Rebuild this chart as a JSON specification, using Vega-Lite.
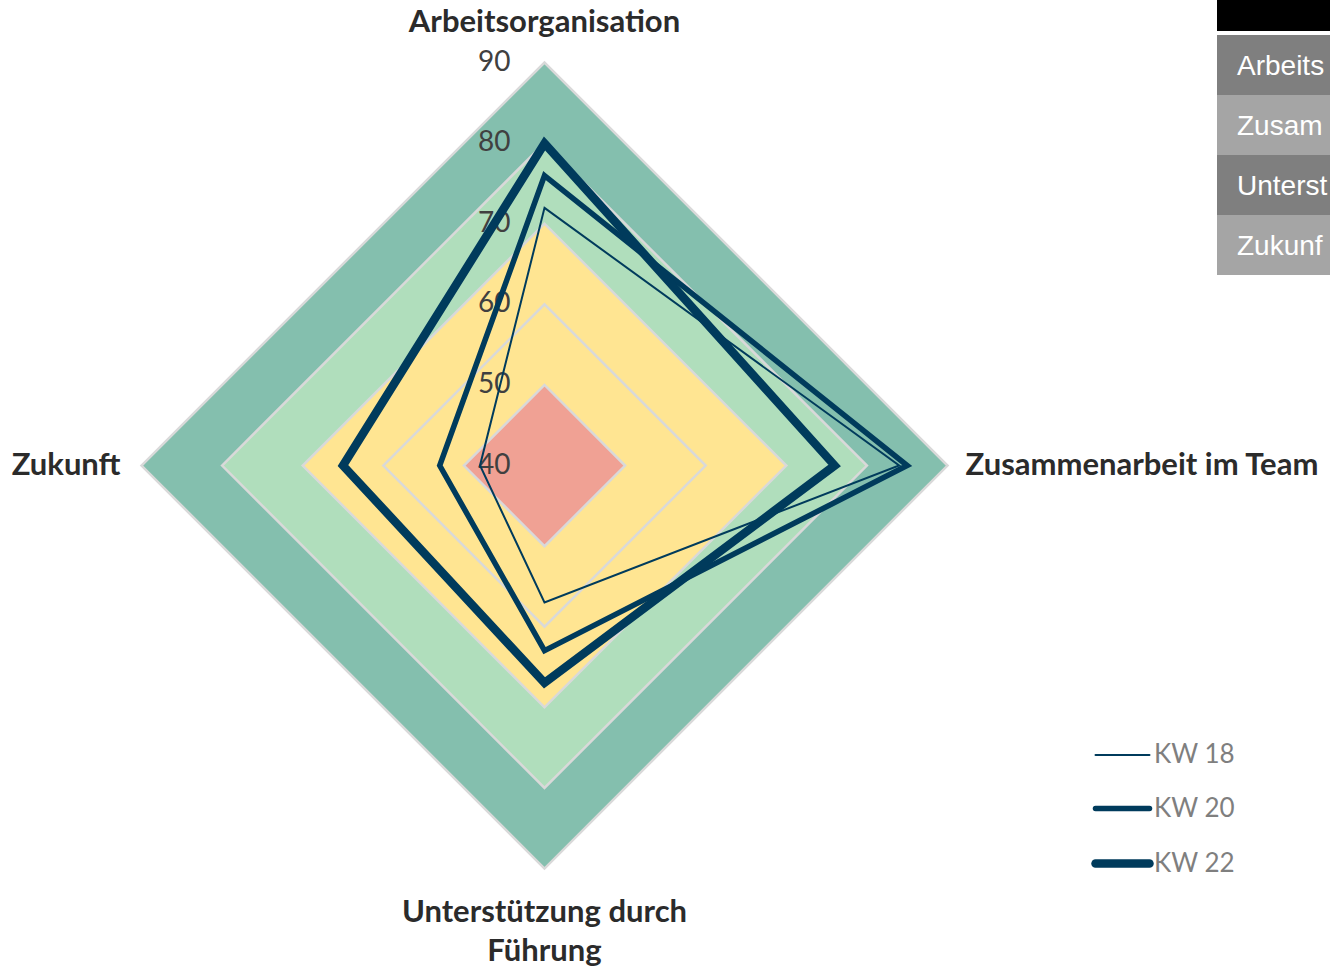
{
  "$schema": "https://vega.github.io/schema/vega-lite/v6.json",
  "width": 1330,
  "height": 967,
  "autosize": {"type": "fit", "contains": "padding"},
  "padding": 0,
  "background": "white",
  "config": {"view": {"stroke": null}, "axis": {"disable": true}},
  "datasets": {
    "radar": [
      {"series": "KW 18", "axis": "Arbeitsorganisation", "value": 72},
      {"series": "KW 18", "axis": "Zusammenarbeit im Team", "value": 84},
      {"series": "KW 18", "axis": "Unterstützung durch Führung", "value": 57},
      {"series": "KW 18", "axis": "Zukunft", "value": 48},
      {"series": "KW 20", "axis": "Arbeitsorganisation", "value": 76},
      {"series": "KW 20", "axis": "Zusammenarbeit im Team", "value": 85},
      {"series": "KW 20", "axis": "Unterstützung durch Führung", "value": 63},
      {"series": "KW 20", "axis": "Zukunft", "value": 53},
      {"series": "KW 22", "axis": "Arbeitsorganisation", "value": 80},
      {"series": "KW 22", "axis": "Zusammenarbeit im Team", "value": 76},
      {"series": "KW 22", "axis": "Unterstützung durch Führung", "value": 67},
      {"series": "KW 22", "axis": "Zukunft", "value": 65}
    ],
    "bands": [
      {"band": "80-90", "level": 90},
      {"band": "70-80", "level": 80},
      {"band": "50-70", "level": 70},
      {"band": "40-50", "level": 50}
    ],
    "grid": [{"level": 50}, {"level": 60}, {"level": 70}, {"level": 80}, {"level": 90}],
    "ticks": [{"t": 40}, {"t": 50}, {"t": 60}, {"t": 70}, {"t": 80}, {"t": 90}],
    "axes": [
      {"axis": "Arbeitsorganisation", "label": "Arbeitsorganisation"},
      {"axis": "Zusammenarbeit im Team", "label": "Zusammenarbeit im Team"},
      {"axis": "Unterstützung durch Führung", "label": "Unterstützung durch\nFührung"},
      {"axis": "Zukunft", "label": "Zukunft"}
    ],
    "table": [
      {"row": "Kopf", "label": ""},
      {"row": "Arbeitsorganisation", "label": "Arbeitsorganisation"},
      {"row": "Zusammenarbeit im Team", "label": "Zusammenarbeit im Team"},
      {"row": "Unterstützung durch Führung", "label": "Unterstützung durch Führung"},
      {"row": "Zukunft", "label": "Zukunft"}
    ]
  },
  "layer": [
    {
      "data": {"name": "table"},
      "layer": [
        {
          "transform": [{"filter": "datum.row === 'Kopf'"}],
          "mark": {"type": "rect", "color": "#000000"},
          "encoding": {
            "x": {"datum": 0, "type": "quantitative", "scale": {"domain": [0, 1], "range": [1217, 1330]}, "axis": null},
            "x2": {"datum": 1},
            "y": {"datum": 0, "type": "quantitative", "scale": {"domain": [0, 1], "range": [0, 31]}, "axis": null},
            "y2": {"datum": 1}
          }
        },
        {
          "transform": [{"filter": "datum.row !== 'Kopf'"}],
          "mark": {"type": "rect"},
          "encoding": {
            "x": {"datum": 0, "type": "quantitative"},
            "x2": {"datum": 1},
            "y": {"field": "row", "type": "nominal", "scale": {"domain": ["Arbeitsorganisation", "Zusammenarbeit im Team", "Unterstützung durch Führung", "Zukunft"], "range": [35, 275], "paddingInner": 0, "paddingOuter": 0}, "axis": null},
            "color": {"field": "row", "type": "nominal", "scale": {"domain": ["Arbeitsorganisation", "Zusammenarbeit im Team", "Unterstützung durch Führung", "Zukunft"], "range": ["#7f7f7f", "#a5a5a5", "#7f7f7f", "#a5a5a5"]}, "legend": null}
          }
        },
        {
          "transform": [{"filter": "datum.row !== 'Kopf'"}],
          "mark": {"type": "text", "align": "left", "baseline": "middle", "dx": 20, "dy": 2, "font": "Liberation Sans", "fontSize": 28, "color": "white", "limit": 93, "ellipsis": "\u200b"},
          "encoding": {
            "x": {"datum": 0, "type": "quantitative"},
            "y": {"field": "row", "type": "nominal", "scale": {"domain": ["Arbeitsorganisation", "Zusammenarbeit im Team", "Unterstützung durch Führung", "Zukunft"], "range": [35, 275], "paddingInner": 0, "paddingOuter": 0}, "axis": null},
            "text": {"field": "label"}
          }
        }
      ],
      "resolve": {"scale": {"y": "independent"}}
    },
    {
      "layer": [
        {
          "data": {"name": "bands"},
          "transform": [{"calculate": "datum.level - 40", "as": "u"}],
          "mark": {"type": "point", "shape": "diamond", "filled": true, "opacity": 1, "strokeWidth": 0},
          "encoding": {
            "x": {"datum": 0, "type": "quantitative", "scale": {"domain": [-67.556, 97.457], "nice": false, "zero": false}, "axis": null},
            "y": {"datum": 0, "type": "quantitative", "scale": {"domain": [-62.159, 57.816], "nice": false, "zero": false}, "axis": null},
            "size": {"field": "u", "type": "quantitative", "scale": {"type": "pow", "exponent": 2, "domain": [0, 50], "range": [0, 649636]}, "legend": null},
            "color": {"field": "band", "type": "nominal", "scale": {"domain": ["80-90", "70-80", "50-70", "40-50"], "range": ["#84bfae", "#b0debc", "#ffe592", "#f0a194"]}, "legend": null}
          }
        },
        {
          "data": {"name": "grid"},
          "transform": [{"calculate": "datum.level - 40", "as": "u"}],
          "mark": {"type": "point", "shape": "diamond", "filled": false, "opacity": 1, "stroke": "#d9d9d9", "strokeWidth": 2.5},
          "encoding": {
            "x": {"datum": 0, "type": "quantitative"},
            "y": {"datum": 0, "type": "quantitative"},
            "size": {"field": "u", "type": "quantitative"}
          }
        },
        {
          "data": {"name": "ticks"},
          "transform": [{"calculate": "datum.t - 40", "as": "u"}],
          "mark": {"type": "text", "align": "right", "baseline": "middle", "dx": -34, "font": "Lato", "fontSize": 28, "color": "#404040"},
          "encoding": {
            "x": {"datum": 0, "type": "quantitative"},
            "y": {"field": "u", "type": "quantitative"},
            "text": {"field": "t", "type": "quantitative"}
          }
        },
        {
          "data": {"name": "radar"},
          "transform": [
            {"calculate": "datum.value - 40", "as": "u"},
            {"calculate": "datum.axis === 'Zusammenarbeit im Team' ? datum.u : (datum.axis === 'Zukunft' ? -datum.u : 0)", "as": "px"},
            {"calculate": "datum.axis === 'Arbeitsorganisation' ? datum.u : (datum.axis === 'Unterstützung durch Führung' ? -datum.u : 0)", "as": "py"},
            {"calculate": "indexof(['Arbeitsorganisation', 'Zusammenarbeit im Team', 'Unterstützung durch Führung', 'Zukunft'], datum.axis)", "as": "k"}
          ],
          "mark": {"type": "line", "interpolate": "linear-closed", "stroke": "#003b5c", "strokeJoin": "miter"},
          "encoding": {
            "x": {"field": "px", "type": "quantitative"},
            "y": {"field": "py", "type": "quantitative"},
            "detail": {"field": "series"},
            "order": {"field": "k", "type": "quantitative"},
            "strokeWidth": {
              "field": "series",
              "type": "ordinal",
              "scale": {"type": "ordinal", "domain": ["KW 18", "KW 20", "KW 22"], "range": [2, 5.5, 8.5]},
              "legend": {
                "orient": "none",
                "legendX": 1091,
                "legendY": 727,
                "title": null,
                "symbolType": "stroke",
                "symbolSize": 2916,
                "symbolStrokeColor": "#003b5c",
                "labelFont": "Lato",
                "labelFontSize": 26,
                "labelColor": "#7f7f7f",
                "labelOffset": 0,
                "rowPadding": 10.5,
                "padding": 0,
                "encode": {"symbols": {"update": {"strokeCap": {"value": "round"}, "stroke": {"value": "#003b5c"}}}}
              }
            }
          }
        },
        {
          "data": {"name": "axes"},
          "transform": [{"filter": "datum.axis === 'Arbeitsorganisation'"}],
          "mark": {"type": "text", "align": "center", "baseline": "middle", "dy": -40, "font": "Lato", "fontWeight": "bold", "fontSize": 31, "color": "#2b2b2b"},
          "encoding": {
            "x": {"datum": 0, "type": "quantitative"},
            "y": {"datum": 50, "type": "quantitative"},
            "text": {"field": "label"}
          }
        },
        {
          "data": {"name": "axes"},
          "transform": [{"filter": "datum.axis === 'Zusammenarbeit im Team'"}],
          "mark": {"type": "text", "align": "left", "baseline": "middle", "dx": 18, "font": "Lato", "fontWeight": "bold", "fontSize": 31, "color": "#2b2b2b", "limit": 366, "ellipsis": "\u200b"},
          "encoding": {
            "x": {"datum": 50, "type": "quantitative"},
            "y": {"datum": 0, "type": "quantitative"},
            "text": {"field": "label"}
          }
        },
        {
          "data": {"name": "axes"},
          "transform": [{"filter": "datum.axis === 'Unterstützung durch Führung'"}],
          "mark": {"type": "text", "align": "center", "baseline": "middle", "dy": 45, "lineBreak": "\n", "lineHeight": 39, "font": "Lato", "fontWeight": "bold", "fontSize": 31, "color": "#2b2b2b"},
          "encoding": {
            "x": {"datum": 0, "type": "quantitative"},
            "y": {"datum": -50, "type": "quantitative"},
            "text": {"field": "label"}
          }
        },
        {
          "data": {"name": "axes"},
          "transform": [{"filter": "datum.axis === 'Zukunft'"}],
          "mark": {"type": "text", "align": "right", "baseline": "middle", "dx": -21, "font": "Lato", "fontWeight": "bold", "fontSize": 31, "color": "#2b2b2b"},
          "encoding": {
            "x": {"datum": -50, "type": "quantitative"},
            "y": {"datum": 0, "type": "quantitative"},
            "text": {"field": "label"}
          }
        }
      ]
    }
  ],
  "resolve": {"scale": {"x": "independent", "y": "independent", "color": "independent"}}
}
